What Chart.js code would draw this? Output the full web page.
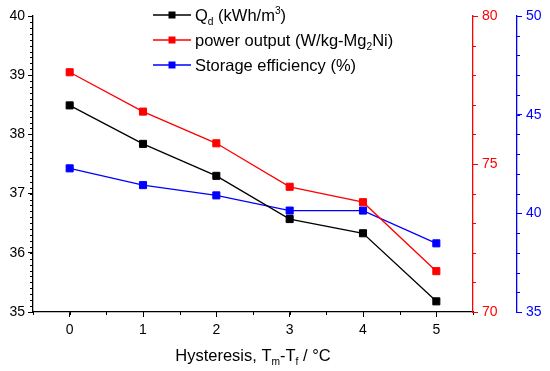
<!DOCTYPE html>
<html>
<head>
<meta charset="utf-8">
<script src="https://cdn.jsdelivr.net/npm/chart.js@4.4.1/dist/chart.umd.min.js"></script>
<style>
  html, body { margin: 0; padding: 0; background: #fff; }
  #wrap { width: 550px; height: 371px; }
</style>
</head>
<body>
<div id="wrap"><canvas id="chart"></canvas></div>
<script>
// data
const hysteresis = [0, 1, 2, 3, 4, 5];
const qd = [38.49, 37.84, 37.30, 36.57, 36.33, 35.18];
const powerOutput = [78.10, 76.77, 75.70, 74.23, 73.71, 71.38];
const efficiency = [42.28, 41.43, 40.91, 40.14, 40.14, 38.48];

const xTicks = [0, 1, 2, 3, 4, 5];
const qdTicks = [35, 36, 37, 38, 39, 40];
const powerTicks = [70, 75, 80];
const effTicks = [35, 40, 45, 50];

// rich text pieces: [text, 'sub' | 'sup' | undefined]
const legendNames = [
  [['Q'], ['d', 'sub'], [' (kWh/m'], ['3', 'sup'], [')']],
  [['power output (W/kg-Mg'], ['2', 'sub'], ['Ni)']],
  [['Storage efficiency (%)']]
];
const xTitle = [['Hysteresis, T'], ['m', 'sub'], ['-T'], ['f', 'sub'], [' / \u00B0C']];

const RED = '#ff0000';
const BLUE = '#0000ff';
const BLACK = '#000000';
const colors = [BLACK, RED, BLUE];
const FONT = "'Liberation Sans', Arial, sans-serif";

function pts(ys) {
  return hysteresis.map((x, i) => ({ x: x, y: ys[i] }));
}

function richText(ctx, parts, x, y, size, align) {
  const widths = parts.map(p => {
    ctx.font = (p[1] ? size * 0.62 : size) + 'px ' + FONT;
    return ctx.measureText(p[0]).width;
  });
  const total = widths.reduce((a, b) => a + b, 0);
  let cx = align === 'center' ? x - total / 2 : x;
  ctx.textBaseline = 'alphabetic';
  ctx.textAlign = 'left';
  parts.forEach((p, i) => {
    let dy = 0;
    if (p[1] === 'sub') dy = size * 0.25;
    if (p[1] === 'sup') dy = -size * 0.42;
    ctx.font = (p[1] ? size * 0.62 : size) + 'px ' + FONT;
    ctx.fillText(p[0], cx, y + dy);
    cx += widths[i];
  });
}

// minor tick marks, every step between min and max
const minorSteps = { x: 0.5, y: 0.1, y1: 1, y2: 1 };

const extras = {
  id: 'extras',
  afterDraw(chart) {
    const ctx = chart.ctx;
    ctx.save();
    ctx.lineWidth = 1;
    Object.keys(minorSteps).forEach(id => {
      const s = chart.scales[id];
      const step = minorSteps[id];
      const n = Math.round((s.max - s.min) / step);
      ctx.strokeStyle = id === 'y1' ? RED : id === 'y2' ? BLUE : BLACK;
      ctx.beginPath();
      for (let i = 0; i <= n; i++) {
        const v = s.min + i * step;
        const p = Math.round(s.getPixelForValue(v)) + 0.5;
        if (id === 'x') {
          ctx.moveTo(p, s.top); ctx.lineTo(p, s.top + 3);
        } else if (id === 'y') {
          ctx.moveTo(s.right, p); ctx.lineTo(s.right - 3, p);
        } else {
          ctx.moveTo(s.left, p); ctx.lineTo(s.left + 3, p);
        }
      }
      ctx.stroke();
    });

    // legend
    const a = chart.chartArea;
    const lx = a.left + 120;
    legendNames.forEach((parts, i) => {
      const y = a.top - 1 + i * 25;
      ctx.strokeStyle = colors[i];
      ctx.lineWidth = 1.3;
      ctx.beginPath();
      ctx.moveTo(lx, y); ctx.lineTo(lx + 38, y);
      ctx.stroke();
      ctx.fillStyle = colors[i];
      ctx.fillRect(lx + 19 - 3.5, y - 3.5, 7, 7);
      ctx.fillStyle = BLACK;
      richText(ctx, parts, lx + 42, y + 6, 16.5, 'left');
    });

    // x title
    ctx.fillStyle = BLACK;
    richText(ctx, xTitle, (a.left + a.right) / 2, 361, 16.5, 'center');
    ctx.restore();
  }
};

function ds(label, data, color, axis) {
  return {
    label: label,
    data: pts(data),
    yAxisID: axis,
    borderColor: color,
    backgroundColor: color,
    borderWidth: 1.3,
    pointStyle: 'rect',
    pointRadius: 5,
    pointBorderWidth: 1,
    pointBorderColor: color,
    tension: 0
  };
}

function tickSetter(values) {
  return scale => { scale.ticks = values.map(v => ({ value: v })); };
}

new Chart(document.getElementById('chart'), {
  type: 'line',
  data: {
    datasets: [
      ds('Qd', qd, BLACK, 'y'),
      ds('power output', powerOutput, RED, 'y1'),
      ds('Storage efficiency', efficiency, BLUE, 'y2')
    ]
  },
  options: {
    responsive: true,
    maintainAspectRatio: false,
    animation: false,
    layout: { padding: { top: 16, left: 0, right: 0, bottom: 0 } },
    plugins: { legend: { display: false }, tooltip: { enabled: false } },
    scales: {
      x: {
        type: 'linear',
        min: -0.5,
        max: 5.5,
        afterBuildTicks: tickSetter(xTicks),
        afterFit: s => { s.height = 59; },
        grid: { drawOnChartArea: false, tickLength: 5, color: BLACK },
        border: { color: BLACK, width: 1.3 },
        ticks: { color: BLACK, font: { family: FONT, size: 14 }, padding: 5 }
      },
      y: {
        position: 'left',
        min: 35,
        max: 40,
        afterBuildTicks: tickSetter(qdTicks),
        afterFit: s => { s.width = 33; },
        grid: { drawOnChartArea: false, tickLength: 5, color: BLACK },
        border: { color: BLACK, width: 1.3 },
        ticks: { color: BLACK, font: { family: FONT, size: 14 }, padding: 3 }
      },
      y1: {
        position: 'right',
        min: 70,
        max: 80,
        afterBuildTicks: tickSetter(powerTicks),
        afterFit: s => { s.width = 44; },
        grid: { drawOnChartArea: false, tickLength: 5, color: RED },
        border: { color: RED, width: 1.3 },
        ticks: { color: RED, font: { family: FONT, size: 14 }, padding: 4 }
      },
      y2: {
        position: 'right',
        min: 35,
        max: 50,
        afterBuildTicks: tickSetter(effTicks),
        afterFit: s => { s.width = 33; },
        grid: { drawOnChartArea: false, tickLength: 5, color: BLUE },
        border: { color: BLUE, width: 1.3 },
        ticks: { color: BLUE, font: { family: FONT, size: 14 }, padding: 4 }
      }
    }
  },
  plugins: [extras]
});
</script>
</body>
</html>
